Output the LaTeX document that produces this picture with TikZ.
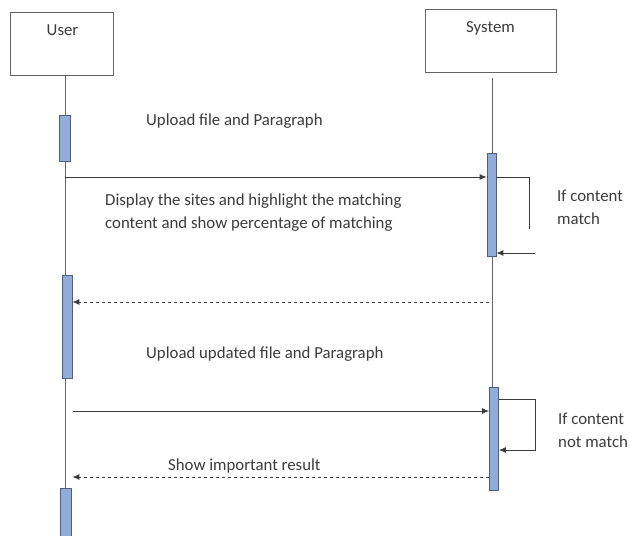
\documentclass[tikz,border=0pt]{standalone}
\usepackage{fontspec}
\setmainfont{Carlito}
\usetikzlibrary{arrows.meta}
\definecolor{barfill}{RGB}{145,172,214}
\definecolor{barline}{RGB}{80,95,125}
\definecolor{ink}{RGB}{60,60,60}
\begin{document}
\begin{tikzpicture}[x=1pt,y=-1pt,
  actor/.style={draw=ink!80,line width=1pt,fill=white,minimum width=#1,minimum height=63pt,inner sep=0pt},
  bar/.style={draw=barline,fill=barfill,line width=0.8pt,minimum width=9pt,inner sep=0pt},
  life/.style={draw=ink!80,line width=0.9pt},
  msg/.style={draw=ink,line width=0.9pt,-{Latex[length=7pt,width=6pt]}},
  plain/.style={draw=ink,line width=0.9pt},
  ret/.style={draw=ink,line width=0.9pt,dash pattern=on 3.5pt off 2.5pt,-{Latex[length=7pt,width=6pt]}},
  lbl/.style={text=ink,font=\fontsize{16.8}{23}\selectfont,inner sep=0pt,align=left},
  every node/.append style={text=ink}]
\useasboundingbox (0,0) rectangle (630,536);
\fill[white] (0,0) rectangle (630,536);
% actors
\node[actor=103pt] (user) at (61.5,44) {};
\node[lbl] at (62.5,30) {User};
\node[actor=131pt] (sys) at (490.5,41) {};
\node[lbl] at (490.5,28) {System};
% lifelines
\coordinate (uend) at (65,536);
\coordinate (send) at (492,490);
\draw[life] (65,76) -- (uend);
\draw[life] (492,78) -- (send);
% activation bars
\node[bar,minimum width=11pt,minimum height=46pt] (ub1) at (65,138) {};
\node[bar,minimum width=10pt,minimum height=103pt] (ub2) at (67,326.5) {};
\node[bar,minimum width=11pt,minimum height=48pt] (ub3) at (66,512) {};
\node[bar,minimum width=9pt,minimum height=103pt] (sb1) at (491.5,204.5) {};
\node[bar,minimum width=9pt,minimum height=103pt] (sb2) at (494,438.5) {};
% message 1
\coordinate (m1s) at (65,177);
\draw[msg] (m1s) -- (sb1.west |- m1s);
\node[lbl,anchor=west] at (146,121) {Upload file and Paragraph};
% self loop 1
\coordinate (l1a) at (529,177);
\coordinate (l1b) at (529,229);
\coordinate (l1c) at (535,253);
\draw[plain] (sb1.east |- l1a) -- (l1a) -- (l1b);
\draw[msg] (l1c) -- (sb1.east |- l1c);
\node[lbl,anchor=west] at (557,207) {If content\\match};
% message 2 text
\node[lbl,anchor=west] at (105,213) {Display the sites and highlight the matching\\content and show percentage of matching};
% return 1
\coordinate (r1) at (489,302);
\draw[ret] (r1) -- (ub2.east |- r1);
% upload updated
\node[lbl,anchor=west] at (146,354) {Upload updated file and Paragraph};
\coordinate (m3s) at (73,411);
\draw[msg] (m3s) -- (sb2.west |- m3s);
% self loop 2
\coordinate (l2a) at (535,399);
\coordinate (l2b) at (535,450);
\draw[msg] (sb2.east |- l2a) -- (l2a) -- (l2b) -- (sb2.east |- l2b);
\node[lbl,anchor=west] at (558,430) {If content\\not match};
% return 2
\coordinate (r2) at (489,477);
\draw[ret] (r2) -- (ub2.east |- r2);
\node[lbl,anchor=west] at (168,466) {Show important result};
\end{tikzpicture}
\end{document}
